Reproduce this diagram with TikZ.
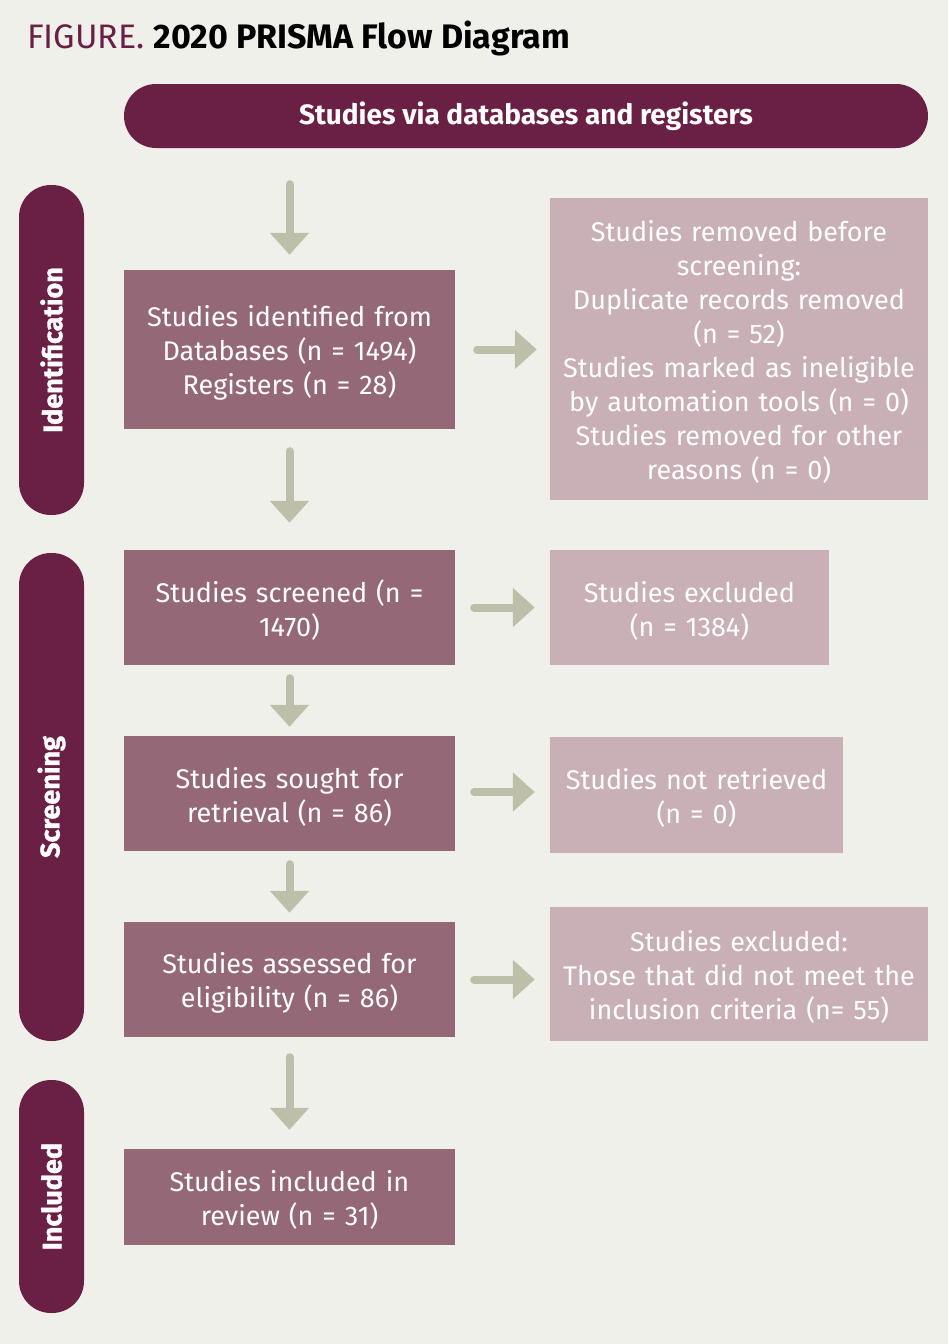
\documentclass[tikz,border=0pt]{standalone}
\usepackage{fontspec}
\setmainfont{Fira Sans}
\newfontfamily\heavyfont[BoldFont={* Bold}, BoldFeatures={FakeBold=1.2}]{Fira Sans}
\usetikzlibrary{arrows.meta,positioning}
\definecolor{bgc}{HTML}{F0F0EB}
\definecolor{darkm}{HTML}{6A1F45}
\definecolor{midm}{HTML}{956878}
\definecolor{lightm}{HTML}{C9B0B7}
\definecolor{arrc}{HTML}{BEBFA9}
\tikzset{
  pill/.style={fill=darkm, rounded corners=32pt, inner sep=0pt, text=white, font=\fontsize{27}{30}\selectfont\bfseries},
  phase/.style={pill, font=\heavyfont\fontsize{27}{30}\selectfont\bfseries},
  mainbox/.style={fill=midm, inner sep=0pt, text=white, align=center, font=\fontsize{27}{34}\selectfont, execute at begin node={\rule{0pt}{27pt}}},
  sidebox/.style={fill=lightm, inner sep=0pt, text=white, align=center, font=\fontsize{27}{34}\selectfont, execute at begin node={\rule{0pt}{27pt}}},
  flow/.style={draw=arrc, line width=8pt, line cap=round, -{Triangle[width=38pt,length=22pt]}},
}
\begin{document}
\begin{tikzpicture}[x=1pt,y=-1pt]
\fill[bgc] (0,0) rectangle (948,1344);
\useasboundingbox (0,0) rectangle (948,1344);
% title
\node[anchor=base west, inner sep=0pt, font=\fontsize{34}{38}\selectfont] (title) at (27,48)
  {{\color{darkm}FIGURE.} \textbf{2020 PRISMA Flow Diagram}};
% header
\node[pill, minimum width=804pt, minimum height=64pt, font=\fontsize{28}{30}\selectfont\bfseries] (head) at (526,116) {Studies via databases and registers};
% phase pills
\node[phase, minimum width=330pt, minimum height=65pt, rotate=90] (pid) at (51.5,350) {Identification};
\node[phase, minimum width=488pt, minimum height=65pt, rotate=90] (pscr) at (51.5,797) {Screening};
\node[phase, minimum width=233pt, minimum height=65pt, rotate=90] (pinc) at (51.5,1196.5) {Included};
% main boxes
\node[mainbox, minimum width=331pt, minimum height=159pt, text width=325pt] (b1) at (289.5,349.5)
  {Studies identified from\\Databases (n = 1494)\\Registers (n = 28)};
\node[mainbox, minimum width=331pt, minimum height=115pt, text width=325pt] (b2) at (289.5,607.5)
  {Studies screened (n =\\1470)};
\node[mainbox, minimum width=331pt, minimum height=115pt, text width=325pt] (b3) at (289.5,793.5)
  {Studies sought for\\retrieval (n = 86)};
\node[mainbox, minimum width=331pt, minimum height=115pt, text width=325pt] (b4) at (289.5,979.5)
  {Studies assessed for\\eligibility (n = 86)};
\node[mainbox, minimum width=331pt, minimum height=96pt, text width=325pt] (b5) at (289.5,1197)
  {Studies included in\\review (n = 31)};
% side boxes
\node[sidebox, minimum width=378pt, minimum height=302pt, text width=374pt] (r1) at (739,349)
  {Studies removed before\\screening:\\Duplicate records removed\\(n = 52)\\Studies marked as ineligible\\by automation tools (n = 0)\\Studies removed for other\\reasons (n = 0)};
\node[sidebox, minimum width=279pt, minimum height=115pt, text width=275pt] (r2) at (689.5,607.5)
  {Studies excluded\\(n = 1384)};
\node[sidebox, minimum width=293pt, minimum height=116pt, text width=289pt] (r3) at (696.5,795)
  {Studies not retrieved\\(n = 0)};
\node[sidebox, minimum width=378pt, minimum height=134pt, text width=374pt] (r4) at (739,974)
  {Studies excluded:\\Those that did not meet the\\inclusion criteria (n= 55)};
% vertical arrows
\draw[flow, shorten <=36pt, shorten >=15pt] (b1.north |- head.south) -- (b1.north);
\draw[flow, shorten <=22pt, shorten >=27pt] (b1.south) -- (b2.north);
\draw[flow, shorten <=13pt, shorten >=9pt] (b2.south) -- (b3.north);
\draw[flow, shorten <=13pt, shorten >=9pt] (b3.south) -- (b4.north);
\draw[flow, shorten <=20pt, shorten >=19pt] (b4.south) -- (b5.north);
% horizontal arrows
\draw[flow, shorten <=22pt, shorten >=13pt] (b1.east) -- (b1.east -| r1.west);
\draw[flow, shorten <=19pt, shorten >=15pt] (b2.east) -- (b2.east -| r2.west);
\draw[flow, shorten <=19pt, shorten >=15pt] ([yshift=1.5pt]b3.east) -- ([yshift=1.5pt]b3.east -| r3.west);
\draw[flow, shorten <=19pt, shorten >=15pt] (b4.east) -- (b4.east -| r4.west);
\end{tikzpicture}
\end{document}
